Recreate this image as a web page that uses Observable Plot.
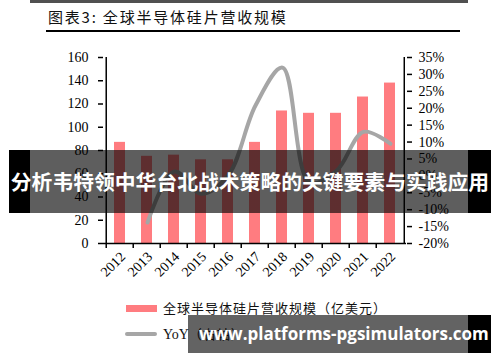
<!DOCTYPE html>
<html><head><meta charset="utf-8">
<script src="https://cdn.jsdelivr.net/npm/d3@7"></script>
<script src="https://cdn.jsdelivr.net/npm/@observablehq/plot@0.6"></script>
<style>
html,body{margin:0;padding:0;background:#fff;}
#wrap{position:relative;width:500px;height:362px;overflow:hidden;background:#fff;}
#wrap svg{position:absolute;left:0;top:0;}
.abs{position:absolute;white-space:nowrap;}
</style></head>
<body><div id="wrap">
<div class="abs" style="left:30px;top:0;width:438px;height:3px;background:#505050"></div>
<div class="abs" id="title" style="left:48px;top:7px;font-family:'Noto Sans CJK SC';font-size:15px;letter-spacing:1.8px;color:#111;line-height:20px;"></div>
<div class="abs" style="left:46px;top:29.5px;width:414px;height:2px;background:#000"></div>
</div>
<script>
const years = ["2012","2013","2014","2015","2016","2017","2018","2019","2020","2021","2022"];
const revenue = [87, 75, 76, 72, 72, 87, 114, 112, 112, 126, 138];
const yoyYears = ["2013","2014","2015","2016","2017","2018","2019","2020","2021","2022"];
const yoy = [-13.8, 1.3, -5.3, 0.3, 20.8, 32, -2, 1.5, 13, 9.5];
const leftTicks = [0, 20, 40, 60, 80, 100, 120, 140, 160];
const rightTicks = [-20, -15, -10, -5, 0, 5, 10, 15, 20, 25, 30, 35];
const titleText = "图表3: 全球半导体硅片营收规模";
const legendBar = "全球半导体硅片营收规模（亿美元）";
const legendLine = "YoY（右轴）";
const bannerText = "分析韦特领中华台北战术策略的关键要素与实践应用";
const watermark = "www.platforms-pgsimulators.com";

const wrap = document.getElementById("wrap");
document.getElementById("title").textContent = titleText;

const W = 500, H = 362, mL = 103, mR = 94, mT = 57, mB = 119;
const step = (W - mL - mR) / years.length;
const xOpt = {domain: years, paddingInner: 0.6, paddingOuter: 0.3};
const style = {background: "transparent", fontFamily: "'Liberation Serif', 'Times New Roman', serif", fontSize: "14px", color: "#000", overflow: "visible"};

const bars = Plot.plot({
  width: W, height: H, marginLeft: mL, marginRight: mR, marginTop: mT, marginBottom: mB,
  style, x: xOpt, y: {domain: [0, 160]},
  marks: [
    Plot.barY(years, {x: d => d, y: (d, i) => revenue[i], fill: "#ff7c80"}),
    Plot.axisY(leftTicks, {tickSize: 5, tickPadding: 10, label: null, strokeWidth: 1.5, fontSize: 14}),
    Plot.axisX({tickSize: 0, tickRotate: -45, tickPadding: 11, dx: 3, label: null, fontSize: 14}),
    Plot.axisX({tickSize: 5, tickFormat: () => "", dx: -step / 2, label: null, strokeWidth: 1.5}),
    Plot.ruleX(["2012"], {y1: 0, y2: 160, dx: -step / 2, strokeWidth: 1.5}),
    Plot.ruleY([0], {strokeWidth: 1.5})
  ]
});
wrap.appendChild(bars);

const line = Plot.plot({
  width: W, height: H, marginLeft: mL, marginRight: mR, marginTop: mT, marginBottom: mB,
  style, x: {...xOpt, axis: null}, y: {domain: [-20, 35]},
  marks: [
    Plot.line(yoyYears, {x: d => d, y: (d, i) => yoy[i], stroke: "#a6a6a6", strokeWidth: 4, curve: "catmull-rom"}),
    Plot.axisY(rightTicks, {anchor: "right", tickSize: 5, tickPadding: 7, tickFormat: d => d + "%", label: null, strokeWidth: 1.5, fontSize: 14}),
    Plot.ruleX(["2022"], {y1: -20, y2: 35, dx: step / 2, strokeWidth: 1.5})
  ]
});
wrap.appendChild(line);

function add(html, css) {
  const d = document.createElement("div");
  d.className = "abs";
  d.style.cssText = css;
  d.textContent = html;
  wrap.appendChild(d);
  return d;
}
// legend
add("", "left:126px;top:304.5px;width:31px;height:7px;background:#ff7c80;");
add(legendBar, "left:163px;top:298px;font-family:'Noto Sans CJK SC';font-size:13px;letter-spacing:1px;line-height:20px;color:#111;");
add("", "left:125px;top:332px;width:32px;height:4px;background:#a6a6a6;border-radius:2px;");
const l2 = add("", "left:163px;top:324px;font-size:14px;line-height:20px;color:#111;");
l2.innerHTML = "<span style=\"font-family:'Liberation Serif'\">YoY</span><span style=\"font-family:'Noto Sans CJK SC';font-size:13px;letter-spacing:1px\">（右轴）</span>";

// banner overlay
add("", "left:9px;top:150px;width:482px;height:63px;background:linear-gradient(to right,#000 21px,rgba(0,0,0,0.63) 21px,rgba(0,0,0,0.63) 459px,#000 459px);");
add(bannerText, "left:9px;top:150px;width:482px;height:63px;line-height:63px;text-align:center;color:#fff;font-family:'Noto Sans CJK SC';font-weight:700;font-size:20.8px;");

// watermark
add("", "left:188px;top:315px;width:303px;height:38px;background:linear-gradient(to right,rgba(0,0,0,0.61) 280px,#000 280px);");
add(watermark, "left:199px;top:315px;height:38px;line-height:38px;color:#fff;font-family:'Open Sans';font-weight:700;font-size:17px;");
</script>
</body></html>
